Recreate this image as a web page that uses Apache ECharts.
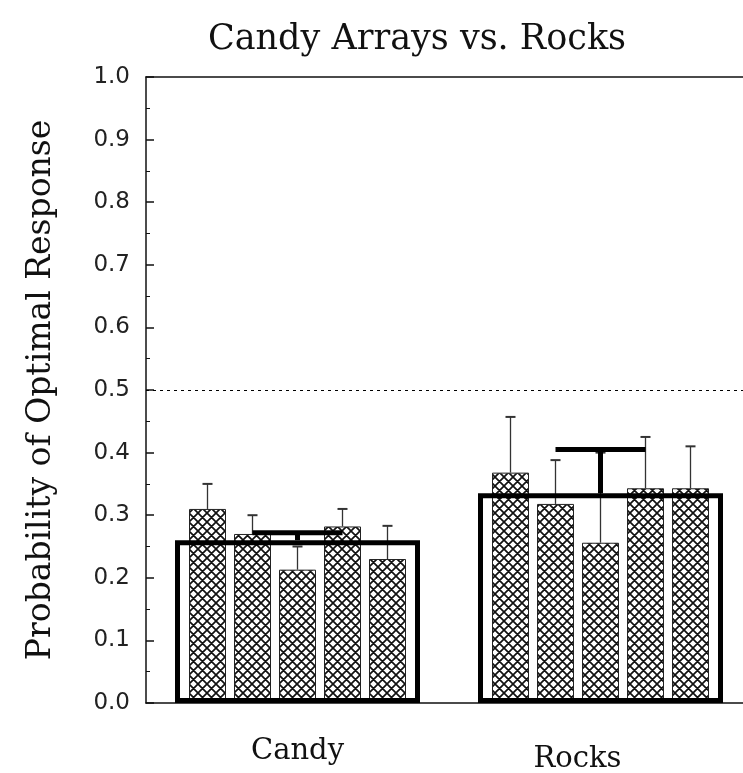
<!DOCTYPE html>
<html>
<head>
<meta charset="utf-8">
<script src="https://cdn.jsdelivr.net/npm/echarts@6/dist/echarts.min.js"></script>
<style>
  html, body { margin: 0; padding: 0; background: #fff; }
  #main { width: 743px; height: 773px; }
</style>
</head>
<body>
<div id="main"></div>
<script>
// data
var categories = ['Candy', 'Rocks'];
var groupMean = [0.26, 0.335];
var groupErrTop = [0.272, 0.405];

// five sub-arrays per group
var sub1 = [0.31, 0.368];
var sub2 = [0.27, 0.318];
var sub3 = [0.213, 0.256];
var sub4 = [0.282, 0.343];
var sub5 = [0.23, 0.343];
var sub1Err = [0.35, 0.457];
var sub2Err = [0.30, 0.388];
var sub3Err = [0.25, 0.40];
var sub4Err = [0.31, 0.425];
var sub5Err = [0.283, 0.41];

var yTicks = ['0.0', '0.1', '0.2', '0.3', '0.4', '0.5', '0.6', '0.7', '0.8', '0.9', '1.0'];

var subVals = [sub1, sub2, sub3, sub4, sub5];
var subErrs = [sub1Err, sub2Err, sub3Err, sub4Err, sub5Err];

// crosshatch pattern
function hatch() {
    var c = document.createElement('canvas');
    c.width = 9; c.height = 9;
    var g = c.getContext('2d');
    g.fillStyle = '#fff';
    g.fillRect(0, 0, 9, 9);
    g.strokeStyle = '#111';
    g.lineWidth = 1.7;
    g.beginPath();
    for (var k = -9; k <= 9; k += 9) {
        g.moveTo(k, 0); g.lineTo(k + 9, 9);
        g.moveTo(k + 9, 0); g.lineTo(k, 9);
    }
    g.stroke();
    return c;
}
var pat = hatch();

var barW = 37;
var barGapPx = 8;

var myChart = echarts.init(document.getElementById('main'));

var series = [];
for (var i = 0; i < subVals.length; i++) {
    series.push({
        name: 'sub' + (i + 1),
        type: 'bar',
        xAxisIndex: 1,
        barWidth: barW,
        barGap: (barGapPx / barW * 100) + '%',
        data: subVals[i],
        itemStyle: {
            color: { image: pat, repeat: 'repeat' },
            borderColor: '#222',
            borderWidth: 1
        },
        z: 2
    });
}

// error bars of the sub bars
var subErrData = [];
for (var i = 0; i < subVals.length; i++) {
    for (var j = 0; j < categories.length; j++) {
        subErrData.push([j, subVals[i][j], subErrs[i][j], i]);
    }
}
series.push({
    type: 'custom',
    xAxisIndex: 1,
    data: subErrData,
    z: 3,
    renderItem: function (params, api) {
        var k = api.value(3);
        var off = (k - 2) * (barW + barGapPx);
        var lo = api.coord([api.value(0), api.value(1)]);
        var hi = api.coord([api.value(0), api.value(2)]);
        var x = lo[0] + off;
        return {
            type: 'group',
            children: [
                { type: 'line', shape: { x1: x, y1: lo[1], x2: x, y2: hi[1] }, style: { stroke: '#333', lineWidth: 1.3 } },
                { type: 'line', shape: { x1: x - 5, y1: hi[1], x2: x + 5, y2: hi[1] }, style: { stroke: '#333', lineWidth: 2 } }
            ]
        };
    }
});

// big group bars (outline only)
series.push({
    name: 'mean',
    type: 'bar',
    xAxisIndex: 0,
    barWidth: 245,
    data: groupMean,
    itemStyle: {
        color: 'rgba(0,0,0,0)',
        borderColor: '#000',
        borderWidth: 5
    },
    z: 4,
    markLine: {
        silent: true,
        symbol: 'none',
        label: { show: false },
        lineStyle: { color: '#000', type: [3, 4], width: 1.2 },
        data: [{ yAxis: 0.5 }]
    }
});

// heavy error bars of the groups
var groupErrData = [];
for (var j = 0; j < categories.length; j++) {
    groupErrData.push([j, groupMean[j], groupErrTop[j]]);
}
series.push({
    type: 'custom',
    xAxisIndex: 0,
    data: groupErrData,
    z: 5,
    renderItem: function (params, api) {
        var lo = api.coord([api.value(0), api.value(1)]);
        var hi = api.coord([api.value(0), api.value(2)]);
        var st = { stroke: '#000', lineWidth: 5 };
        return {
            type: 'group',
            children: [
                { type: 'line', shape: { x1: lo[0], y1: lo[1], x2: hi[0], y2: hi[1] }, style: st },
                { type: 'line', shape: { x1: hi[0] - 45, y1: hi[1], x2: hi[0] + 45, y2: hi[1] }, style: st }
            ]
        };
    }
});

var serif = 'DejaVu Serif';

var option = {
    backgroundColor: '#fff',
    animation: false,
    title: {
        text: 'Candy Arrays vs. Rocks',
        left: 412,
        top: 17,
        textAlign: 'center',
        textStyle: { fontFamily: serif, fontSize: 35, fontWeight: 'normal', color: '#111' }
    },
    grid: {
        left: 146, top: 77, width: 606, height: 626,
        outerBoundsMode: 'none',
        containLabel: false
    },
    xAxis: [{
        type: 'category',
        data: categories,
        axisLine: { lineStyle: { color: '#111', width: 1.5 } },
        axisTick: { show: false },
        axisLabel: {
            margin: 34, fontFamily: serif, fontSize: 29, color: '#111',
            formatter: function (v) { return v === 'Rocks' ? '{r|' + v + '}' : v; },
            rich: { r: { fontFamily: serif, fontSize: 29, color: '#111', padding: [8, 46, 0, 0] } }
        }
    }, {
        type: 'category',
        data: categories,
        position: 'top',
        axisLine: { show: true, lineStyle: { color: '#111', width: 1.5 } },
        axisTick: { show: false },
        axisLabel: { show: false }
    }],
    yAxis: {
        type: 'value',
        min: 0, max: 1, interval: 0.1,
        name: 'Probability of Optimal Response',
        nameLocation: 'middle',
        nameGap: 88,
        nameTextStyle: { fontFamily: serif, fontSize: 33, color: '#111' },
        axisLine: { show: true, lineStyle: { color: '#111', width: 1.5 } },
        axisTick: { show: true, inside: true, length: 8, lineStyle: { color: '#111', width: 1.5 } },
        minorTick: { show: true, splitNumber: 2, length: 4, lineStyle: { color: '#111' } },
        splitLine: { show: false },
        axisLabel: {
            margin: 16, fontFamily: 'DejaVu Sans', fontSize: 23, color: '#222',
            formatter: function (v) { return yTicks[Math.round(v * 10)]; }
        }
    },
    series: series
};

myChart.setOption(option);
</script>
</body>
</html>
